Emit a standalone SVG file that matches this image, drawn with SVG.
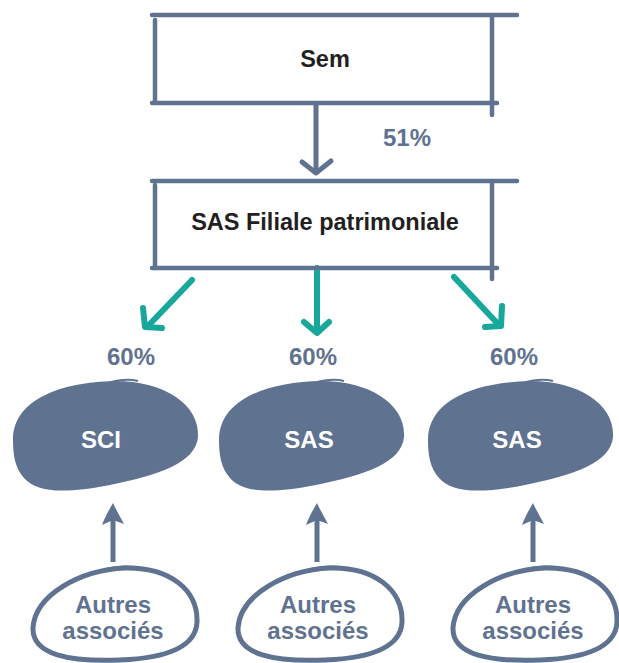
<svg xmlns="http://www.w3.org/2000/svg" xmlns:xlink="http://www.w3.org/1999/xlink" width="619" height="663" viewBox="0 0 619 663">
<style>
.box{stroke:#5f7391;stroke-width:4.5;stroke-linecap:round;fill:none}
.dark{font-family:"Liberation Sans",Arial,sans-serif;font-weight:bold;font-size:23.5px;fill:#231f20;text-anchor:middle}
.slate{font-family:"Liberation Sans",Arial,sans-serif;font-weight:bold;font-size:24px;fill:#5f7391;text-anchor:middle}
.white{font-family:"Liberation Sans",Arial,sans-serif;font-weight:bold;font-size:24px;fill:#ffffff;text-anchor:middle}
.teal{stroke:#18a79b;stroke-width:6;fill:none;stroke-linecap:round;stroke-linejoin:round}
.slateline{stroke:#5f7391;stroke-width:5;fill:none;stroke-linecap:round;stroke-linejoin:round}
</style>
<defs>
<g id="blob">
<path d="M13,440 C13,400 60,382 115,381 C165,381 200,405 198,437 C196,462 160,475 110,485 C60,495 35,491 24,478 C15,468 13,455 13,440 Z" fill="#5f7391"/>
<path d="M108,383 C118,380 130,379 138,381" stroke="#5f7391" stroke-width="2" fill="none"/>
</g>
<g id="ring">
<path d="M33,628 C35,595 80,570 125,568 C170,567 198,590 197,622 C196,645 170,658 120,660 C70,662 32,655 33,628 Z" fill="none" stroke="#5f7391" stroke-width="5"/>
<path d="M100,571 C115,566 130,566 140,568" stroke="#5f7391" stroke-width="2" fill="none"/>
</g>
<g id="uparrow">
<line x1="113" y1="562" x2="113" y2="518" stroke="#5f7391" stroke-width="5"/>
<path d="M113,503 C109,510 105,517 102,525 L113,520 L124,524 C120,516 116,510 113,503 Z" fill="#5f7391"/>
</g>
</defs>

<g id="connectors">
<g id="sem-to-sas">
<line class="slateline" x1="316" y1="104" x2="316" y2="171"/>
<polyline class="slateline" points="302,162 316,173 331,161"/>
</g>
<g id="teal-left">
<line class="teal" x1="192" y1="280" x2="148" y2="326"/>
<polyline class="teal" points="143,308 145,327 162,328"/>
</g>
<g id="teal-mid">
<line class="teal" x1="317" y1="268" x2="317" y2="331"/>
<polyline class="teal" points="304,322 317,333 329,322"/>
</g>
<g id="teal-right">
<line class="teal" x1="454" y1="277" x2="498" y2="324"/>
<polyline class="teal" points="502,306 501,326 485,327"/>
</g>
<use id="up-1" xlink:href="#uparrow"/>
<use id="up-2" xlink:href="#uparrow" transform="translate(204,0)"/>
<use id="up-3" xlink:href="#uparrow" transform="translate(420,0)"/>
</g>

<g id="node-sem">
<line class="box" x1="152" y1="15" x2="517" y2="15"/>
<line class="box" x1="155" y1="20" x2="155" y2="103"/>
<line class="box" x1="152" y1="103" x2="497" y2="103"/>
<line class="box" x1="492" y1="17" x2="492" y2="115"/>
<text class="dark" x="325" y="67">Sem</text>
</g>

<g id="label-51">
<text class="slate" x="407" y="146">51%</text>
</g>

<g id="node-sas-filiale">
<line class="box" x1="152" y1="181" x2="517" y2="181"/>
<line class="box" x1="155" y1="185" x2="155" y2="268"/>
<line class="box" x1="152" y1="268" x2="497" y2="268"/>
<line class="box" x1="492" y1="182" x2="492" y2="279"/>
<text class="dark" x="325" y="230">SAS Filiale patrimoniale</text>
</g>

<g id="labels-60">
<text class="slate" x="131" y="365">60%</text>
<text class="slate" x="313" y="365">60%</text>
<text class="slate" x="514" y="365">60%</text>
</g>

<g id="node-sci">
<use xlink:href="#blob"/>
<text class="white" x="101" y="448">SCI</text>
</g>
<g id="node-sas-1">
<use xlink:href="#blob" transform="translate(206,0)"/>
<text class="white" x="309" y="448">SAS</text>
</g>
<g id="node-sas-2">
<use xlink:href="#blob" transform="translate(415,0)"/>
<text class="white" x="517" y="448">SAS</text>
</g>

<g id="node-autres-1">
<use xlink:href="#ring"/>
<text class="slate" x="113" y="613">Autres</text>
<text class="slate" x="113" y="639">associés</text>
</g>
<g id="node-autres-2">
<use xlink:href="#ring" transform="translate(205,0)"/>
<text class="slate" x="318" y="613">Autres</text>
<text class="slate" x="318" y="639">associés</text>
</g>
<g id="node-autres-3">
<use xlink:href="#ring" transform="translate(420,0)"/>
<text class="slate" x="533" y="613">Autres</text>
<text class="slate" x="533" y="639">associés</text>
</g>
</svg>
